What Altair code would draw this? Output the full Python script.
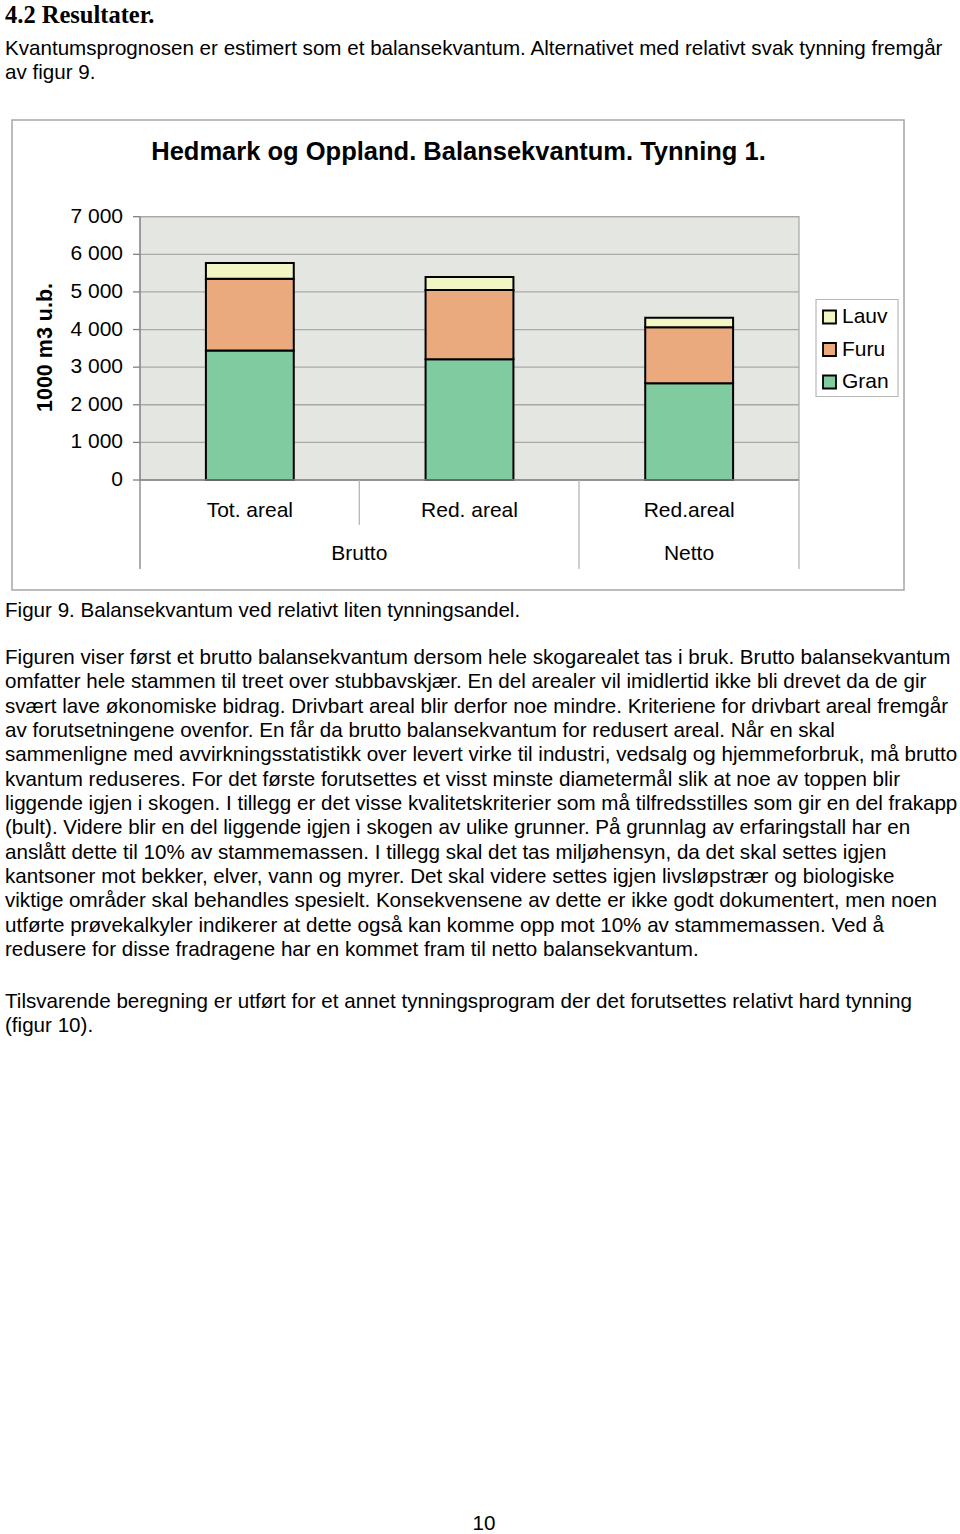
import altair as alt
import pandas as pd

# ---------------- data ----------------
categories = ["Tot. areal", "Red. areal", "Red.areal"]
species_stack = ["Gran", "Furu", "Lauv"]          # bottom -> top
gran = [3440, 3210, 2570]
furu = [1910, 1840, 1490]
lauv = [420, 350, 255]
legend_order = ["Lauv", "Furu", "Gran"]
species_colors = ["#f2f5c4", "#eaaa7e", "#80cba0"]
y_ticks = [0, 1000, 2000, 3000, 4000, 5000, 6000, 7000]
y_tick_labels = ["0", "1 000", "2 000", "3 000", "4 000", "5 000", "6 000", "7 000"]
group_labels = ["Brutto", "Netto"]

chart_title = "Hedmark og Oppland. Balansekvantum. Tynning 1."
y_title = "1000 m3 u.b."
heading = "4.2 Resultater."
intro_lines = [
    "Kvantumsprognosen er estimert som et balansekvantum. Alternativet med relativt svak tynning fremgår",
    "av figur 9.",
]
caption = "Figur 9. Balansekvantum ved relativt liten tynningsandel."
paragraph_lines = [
    "Figuren viser først et brutto balansekvantum dersom hele skogarealet tas i bruk. Brutto balansekvantum",
    "omfatter hele stammen til treet over stubbavskjær. En del arealer vil imidlertid ikke bli drevet da de gir",
    "svært lave økonomiske bidrag. Drivbart areal blir derfor noe mindre. Kriteriene for drivbart areal fremgår",
    "av forutsetningene ovenfor. En får da brutto balansekvantum for redusert areal. Når en skal",
    "sammenligne med avvirkningsstatistikk over levert virke til industri, vedsalg og hjemmeforbruk, må brutto",
    "kvantum reduseres. For det første forutsettes et visst minste diametermål slik at noe av toppen blir",
    "liggende igjen i skogen. I tillegg er det visse kvalitetskriterier som må tilfredsstilles som gir en del frakapp",
    "(bult). Videre blir en del liggende igjen i skogen av ulike grunner. På grunnlag av erfaringstall har en",
    "anslått dette til 10% av stammemassen. I tillegg skal det tas miljøhensyn, da det skal settes igjen",
    "kantsoner mot bekker, elver, vann og myrer. Det skal videre settes igjen livsløpstrær  og biologiske",
    "viktige områder skal behandles spesielt. Konsekvensene av dette er ikke godt dokumentert, men noen",
    "utførte prøvekalkyler indikerer at dette også kan komme opp mot 10% av stammemassen. Ved å",
    "redusere for disse fradragene har en kommet fram til netto balansekvantum.",
]
closing_lines = [
    "Tilsvarende beregning er utført for et annet tynningsprogram der det forutsettes relativt hard tynning",
    "(figur 10).",
]
page_number = "10"

# ---------------- tables ----------------
rows = []
for i, cat in enumerate(categories):
    for rank, (sp, vals) in enumerate(zip(species_stack, [gran, furu, lauv])):
        rows.append({"category": cat, "species": sp, "value": vals[i], "rank": rank})
bars_df = pd.DataFrame(rows)
ticks_df = pd.DataFrame({"tick": y_ticks, "label": y_tick_labels})
cats_df = pd.DataFrame({"category": categories})

# ---------------- scales ----------------
FONT = "Liberation Sans"
PX0, PX1 = 140, 799          # plot area left/right
PY0, PY1 = 480, 216.7        # plot area bottom/top (pixels)
yscale = alt.Scale(domain=[0, 7000], range=[PY0, PY1], nice=False, zero=True)
xscale = alt.Scale(domain=categories, range=[PX0, PX1], paddingInner=0.6, paddingOuter=0.3)
cscale = alt.Scale(domain=legend_order, range=species_colors)


def one():
    return pd.DataFrame({"k": [0]})


def txt(text, x, y, size, align="left", weight="normal", font=FONT, baseline="alphabetic",
        angle=None):
    kw = dict(text=text, fontSize=size, align=align, fontWeight=weight, font=font,
              baseline=baseline, color="#000000")
    if angle is not None:
        kw["angle"] = angle
    return alt.Chart(one()).mark_text(**kw).encode(x=alt.value(x), y=alt.value(y))


def line(x, x2, y, y2, color, width):
    return alt.Chart(one()).mark_rule(color=color, strokeWidth=width).encode(
        x=alt.value(x), x2=alt.value(x2), y=alt.value(y), y2=alt.value(y2))


def box(x, x2, y, y2, fill, stroke, width):
    return alt.Chart(one()).mark_rect(fill=fill, stroke=stroke, strokeWidth=width).encode(
        x=alt.value(x), x2=alt.value(x2), y=alt.value(y), y2=alt.value(y2))


layers = []

# chart frame and plot background
layers.append(box(12, 904, 120, 590, "#ffffff", "#a6a6a6", 1.5))
layers.append(box(PX0, PX1, PY1, PY0, "#e4e6e1", "#a6a6a6", 1.2))

# gridlines
layers.append(alt.Chart(ticks_df).mark_rule(color="#a9a9a9", strokeWidth=1.3).encode(
    y=alt.Y("tick:Q", scale=yscale, axis=None),
    x=alt.value(PX0), x2=alt.value(PX1)))

# tick marks
layers.append(alt.Chart(ticks_df).mark_rule(color="#808080", strokeWidth=1.3).encode(
    y=alt.Y("tick:Q", scale=yscale, axis=None),
    x=alt.value(133), x2=alt.value(PX0)))

# bars
layers.append(alt.Chart(bars_df).mark_bar(stroke="#000000", strokeWidth=2).encode(
    x=alt.X("category:N", scale=xscale, axis=None, sort=categories),
    y=alt.Y("value:Q", scale=yscale, axis=None, stack="zero"),
    color=alt.Color("species:N", scale=cscale, legend=None),
    order=alt.Order("rank:Q", sort="ascending"),
))

# axis lines and category separators
layers.append(line(PX0, PX0, PY1, 569, "#8a8a8a", 1.4))
layers.append(line(PX0, PX1, PY0, PY0, "#8a8a8a", 1.4))
layers.append(line(359.3, 359.3, PY0, 525, "#b0b0b0", 1.2))
layers.append(line(579, 579, PY0, 569, "#b0b0b0", 1.2))
layers.append(line(PX1, PX1, PY0, 569, "#b0b0b0", 1.2))

# y tick labels
layers.append(alt.Chart(ticks_df).mark_text(font=FONT, fontSize=21, align="right",
                                            baseline="middle", color="#000000").encode(
    y=alt.Y("tick:Q", scale=yscale, axis=None),
    x=alt.value(123), text="label:N"))

# category labels
layers.append(alt.Chart(cats_df).mark_text(font=FONT, fontSize=21, align="center",
                                           baseline="middle", color="#000000").encode(
    x=alt.X("category:N", scale=xscale, axis=None, sort=categories),
    y=alt.value(511), text="category:N"))

# group labels
layers.append(txt(group_labels[0], 359.3, 554, 21, align="center", baseline="middle"))
layers.append(txt(group_labels[1], 689, 554, 21, align="center", baseline="middle"))

# chart title and y title
layers.append(txt(chart_title, 458.5, 160, 25.5, align="center", weight="bold"))
layers.append(txt(y_title, 46, 347.5, 21.5, align="center", weight="bold", baseline="middle", angle=270))

# legend
layers.append(box(816, 898, 299.5, 396.5, "#ffffff", "#b8b8b8", 1.2))
legend_y = [317, 349.5, 382]
for sp, ly in zip(legend_order, legend_y):
    layers.append(alt.Chart(pd.DataFrame({"species": [sp]})).mark_square(
        size=169, stroke="#000000", strokeWidth=1.8, opacity=1).encode(
        x=alt.value(829.5), y=alt.value(ly),
        color=alt.Color("species:N", scale=cscale, legend=None)))
    layers.append(txt(sp, 842, ly, 21, baseline="middle"))

# page text
BODY = 20.6
layers.append(txt(heading, 5, 23, 24.5, weight="bold", font="Liberation Serif"))
for k, ln in enumerate(intro_lines):
    layers.append(txt(ln, 5, 55 + k * 24.3, BODY))
layers.append(txt(caption, 5, 617, BODY))
for k, ln in enumerate(paragraph_lines):
    layers.append(txt(ln, 5, 664 + k * 24.33, BODY))
for k, ln in enumerate(closing_lines):
    layers.append(txt(ln, 5, 1008 + k * 24.3, BODY))
layers.append(txt(page_number, 484, 1524, BODY, align="center", baseline="middle"))

chart = alt.layer(*layers).properties(
    width=960, height=1534,
    autosize=alt.AutoSizeParams(type="none"),
    padding=0,
    background="#ffffff",
).configure_view(stroke=None)

chart.save("out.html", embed_options={"renderer": "svg", "actions": False})
